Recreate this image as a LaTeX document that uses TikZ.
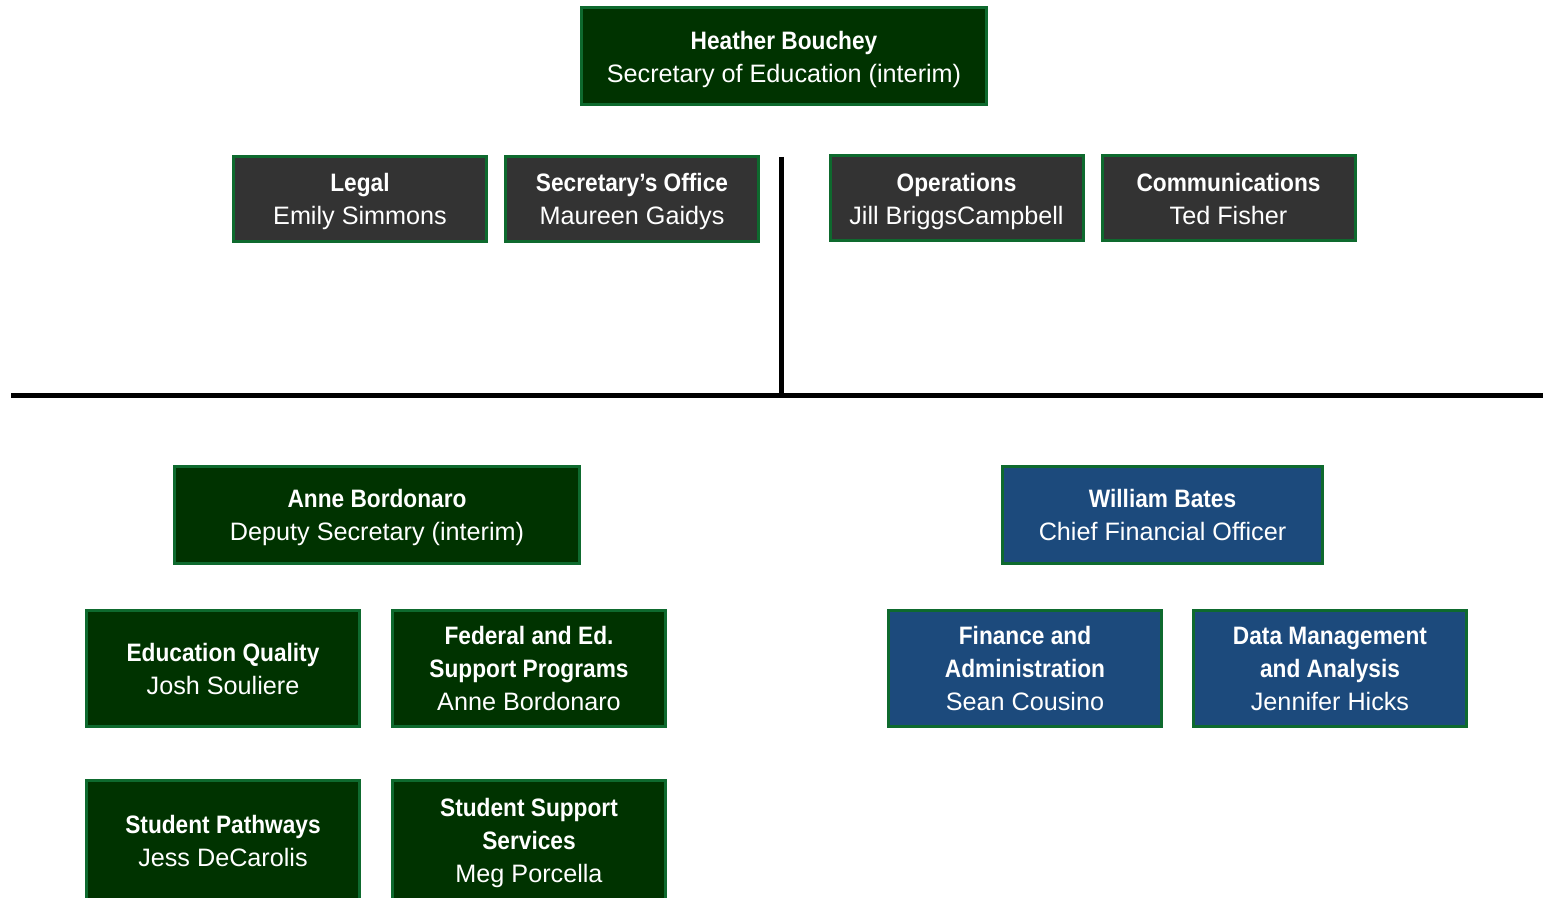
\documentclass[tikz,border=0pt]{standalone}
\usepackage{fontspec}
\setmainfont{Liberation Sans}[BoldFeatures={FakeStretch=0.9}]
\usetikzlibrary{positioning}
\definecolor{deepgreen}{HTML}{003300}
\definecolor{rimgreen}{HTML}{0E6A2E}
\definecolor{slate}{HTML}{333333}
\definecolor{navy}{HTML}{1C4A7C}
\begin{document}
\begin{tikzpicture}[x=0.5pt,y=-0.5pt,node distance=8pt,
  font=\fontsize{12.6}{16.5}\selectfont,
  box/.style={draw=rimgreen,line width=1.5pt,text=white,align=center,inner sep=0pt,
    text depth=-2pt},
  green node/.style={box,fill=deepgreen},
  grey node/.style={box,fill=slate,minimum width=126.5pt,minimum height=42.5pt},
  blue node/.style={box,fill=navy},
  wide/.style={minimum width=202.5pt,minimum height=48.5pt},
  unit/.style={minimum width=136.5pt,minimum height=58pt},
  tall/.style={unit,minimum height=60pt}]

  \useasboundingbox (0,0) rectangle (1543,898);
  \clip (0,0) rectangle (1543,898);

  \node[green node,wide] (sec) at (784,56.5) {\textbf{Heather Bouchey}\\Secretary of Education (interim)};

  \node[grey node] (legal) at (360,199) {\textbf{Legal}\\Emily Simmons};
  \node[grey node] (office) [right=of legal] {\textbf{Secretary’s Office}\\Maureen Gaidys};
  \node[grey node] (ops) at (956.5,198.5) {\textbf{Operations}\\Jill BriggsCampbell};
  \node[grey node] (comms) [right=of ops] {\textbf{Communications}\\Ted Fisher};

  \coordinate (trunk) at (781,157);
  \coordinate (bus) at (781,396);
  \coordinate (busL) at (11,396);
  \coordinate (busR) at (1543,396);

  \node[green node,wide] (deputy) at (377,515) {\textbf{Anne Bordonaro}\\Deputy Secretary (interim)};
  \node[blue node,minimum width=160pt,minimum height=48.5pt] (cfo) at (1162.5,515) {\textbf{William Bates}\\Chief Financial Officer};

  \node[green node,unit] (quality) at (223,668.5) {\textbf{Education Quality}\\Josh Souliere};
  \node[green node,unit] (federal) [right=15pt of quality] {\textbf{Federal and Ed.}\\\textbf{Support Programs}\\Anne Bordonaro};
  \node[green node,tall] (pathways) [below=25.5pt of quality] {\textbf{Student Pathways}\\Jess DeCarolis};
  \node[green node,tall] (support) [right=15pt of pathways] {\textbf{Student Support}\\\textbf{Services}\\Meg Porcella};

  \node[blue node,unit] (finance) at (1025,668.5) {\textbf{Finance and}\\\textbf{Administration}\\Sean Cousino};
  \node[blue node,unit] (data) [right=14.5pt of finance] {\textbf{Data Management}\\\textbf{and Analysis}\\Jennifer Hicks};

  \draw[line width=2.5pt] (trunk) -- (bus);
  \draw[line width=2.5pt] (busL) -- (busR);

\end{tikzpicture}
\end{document}
